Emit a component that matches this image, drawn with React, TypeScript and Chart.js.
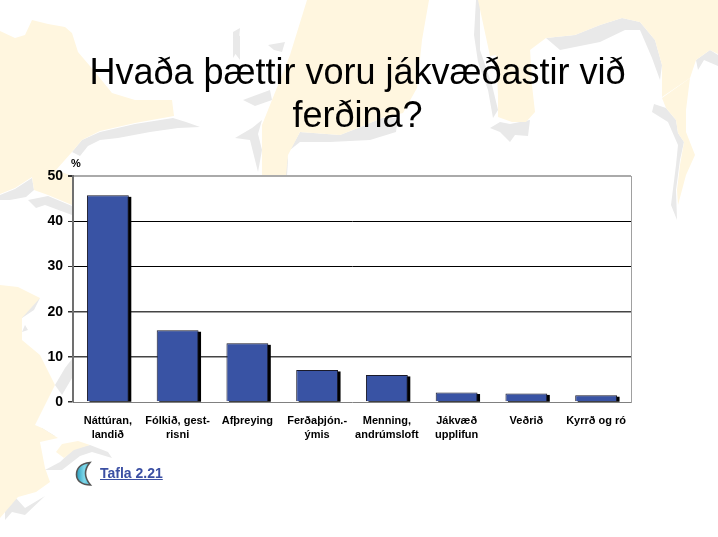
import React, { useEffect, useRef } from "react";
import { Chart, registerables } from "chart.js";

Chart.register(...registerables);

const titleLines = ["Hvaða þættir voru jákvæðastir við", "ferðina?"];
const categories = [
  ["Náttúran,", "landið"],
  ["Fólkið, gest-", "risni"],
  ["Afþreying"],
  ["Ferðaþjón.-", "ýmis"],
  ["Menning,", "andrúmsloft"],
  ["Jákvæð", "upplifun"],
  ["Veðrið"],
  ["Kyrrð og ró"],
];
const values = [45.8, 15.9, 13, 7.1, 6, 2.1, 1.9, 1.5];
const unitLabel = "%";
const linkLabel = "Tafla 2.21";

const FONT = "'Liberation Sans', Arial, sans-serif";

const chartDecor = {
  id: "chartDecor",
  beforeDraw(chart: any) {
    const { ctx, chartArea: a } = chart;
    ctx.save();
    ctx.fillStyle = "#ffffff";
    ctx.fillRect(a.left, a.top, a.right - a.left, a.bottom - a.top);
    ctx.restore();
  },
  beforeDatasetsDraw(chart: any) {
    const { ctx } = chart;
    ctx.save();
    ctx.fillStyle = "#000000";
    chart.getDatasetMeta(0).data.forEach((bar: any) => {
      const { x, y, width, base } = bar.getProps(["x", "y", "width", "base"], true);
      ctx.fillRect(x - width / 2 + 2.5, y + 1.5, width, base - y - 1);
    });
    ctx.restore();
  },
  afterDraw(chart: any) {
    const { ctx, chartArea: a } = chart;
    ctx.save();
    ctx.fillStyle = "#000000";
    ctx.font = `bold 11px ${FONT}`;
    ctx.textAlign = "left";
    ctx.textBaseline = "middle";
    ctx.fillText(unitLabel, a.left - 2, a.top - 12);
    ctx.restore();
  },
};

const yellow = "#fff6df";
const grey = "#e9e9e9";

function Background() {
  return (
    <svg width={718} height={537} style={{ position: "absolute", left: 0, top: 0 }}>
      <defs>
        <filter id="soft" x="-5%" y="-5%" width="110%" height="110%">
          <feGaussianBlur stdDeviation="0.7" />
        </filter>
      </defs>
      <g filter="url(#soft)">
        {/* grey coastline shadows */}
        <g fill={grey}>
          <path d="M173,118 L186,122 L200,127 L178,128 L150,132 L118,138 L100,140 L88,146 L80,156 L72,152 L82,140 L100,132 L135,124Z" />
          <path d="M0,195 L15,189 L32,178 L34,190 L26,197 L10,200 L0,200Z" />
          <path d="M28,200 L48,196 L72,206 L72,215 L45,205 L36,208Z" />
          <path d="M233,32 L240,28 L238,50 L233,58Z" />
          <path d="M268,45 L285,42 L282,52 L274,50Z" />
          <path d="M233,33 L240,36 L240,60 L234,52Z" />
          <path d="M243,100 L270,90 L272,100 L255,106Z" />
          <path d="M235,138 L252,128 L262,120 L258,134 L262,150 L258,172 L250,140Z" />
          <path d="M282,176 L276,160 L284,146 L288,160 L287,176Z" />
          <path d="M290,150 L300,132 L340,135 L358,128 L382,118 L398,118 L396,132 L370,140 L330,142 L300,142Z" />
          <path d="M490,128 L500,122 L510,124 L530,120 L528,136 L515,135 L510,142 L500,132Z" />
          <path d="M476,0 L480,0 L480,50 L492,85 L498,110 L493,118 L488,90 L478,62 L474,35Z" />
          <path d="M546,38 L575,35 L600,25 L622,18 L640,22 L655,40 L662,65 L660,80 L652,58 L640,30 L625,30 L600,42 L560,50Z" />
          <path d="M654,104 L666,108 L676,120 L678,133 L684,142 L680,160 L676,190 L677,220 L671,205 L676,165 L678,145 L668,122 L652,112Z" />
          <path d="M696,60 L710,50 L718,55 L718,66 L704,60 L698,70Z" />
          <path d="M20,306 L40,298 L34,310 L22,318Z" />
          <path d="M25,325 L28,330 L22,332Z" />
          <path d="M20,430 L42,428 L55,436 L40,440Z" />
          <path d="M45,470 L60,462 L75,448 L90,445 L108,452 L112,458 L92,452 L80,456 L62,470Z" />
          <path d="M5,500 L15,497 L25,508 L45,496 L25,515 L12,512 L5,520Z" />
          <path d="M65,368 L75,355 L72,378 L62,395 L55,385Z" />
        </g>
        {/* yellow land masses */}
        <g fill={yellow}>
          <path d="M0,31 L15,38 L25,35 L32,20 L48,24 L65,27 L72,33 L78,52 L95,72 L112,93 L135,100 L172,100 L174,116 L135,123 L100,131 L82,140 L72,152 L56,170 L72,176 L72,205 L48,195 L34,190 L32,177 L15,188 L0,194Z" />
          <path d="M0,285 L18,287 L40,298 L22,318 L22,340 L40,355 L55,385 L45,405 L35,425 L42,428 L58,438 L40,442 L45,468 L50,482 L36,492 L18,497 L0,518Z" />
          <path d="M307,0 L429,0 L422,40 L417,88 L403,113 L382,118 L358,128 L340,135 L300,132 L288,155 L286,176 L262,176 L262,150 L262,125 L272,100 L290,55Z" />
          <path d="M478,0 L718,0 L718,54 L710,50 L696,60 L690,78 L662,97 L662,65 L655,40 L640,22 L622,18 L600,25 L575,35 L546,38 L530,50 L490,56Z" />
          <path d="M496,55 L530,48 L532,85 L535,112 L526,122 L512,122 L498,117 L498,95Z" />
          <path d="M662,98 L690,78 L686,110 L686,132 L695,155 L686,175 L678,205 L677,190 L680,165 L684,142 L678,133 L676,120 L666,108Z" />
          <path d="M74,450 L90,445 L78,441 L62,444 L56,452 L64,458Z" />
        </g>
      </g>
    </svg>
  );
}

export default function App() {
  const ref = useRef<HTMLCanvasElement | null>(null);

  useEffect(() => {
    if (!ref.current) return;
    const chart = new Chart(ref.current, {
      type: "bar",
      data: {
        labels: categories,
        datasets: [
          {
            data: values,
            backgroundColor: "#3953a4",
            borderColor: "#1a1a2a",
            borderWidth: 1,
            barPercentage: 1,
            categoryPercentage: 0.6,
          },
        ],
      },
      plugins: [chartDecor],
      options: {
        responsive: false,
        animation: false,
        layout: { padding: { right: 3 } },
        plugins: {
          legend: { display: false },
          tooltip: { enabled: false },
          title: {
            display: true,
            text: titleLines,
            color: "#000000",
            font: { family: FONT, size: 36, weight: "normal", lineHeight: 1.2 },
            padding: { top: 52, bottom: 38 },
          },
        },
        scales: {
          x: {
            grid: { display: false },
            border: { display: true, color: "#808080", width: 1 },
            ticks: {
              color: "#000000",
              font: { family: FONT, size: 11, weight: "bold", lineHeight: 1.3 },
              padding: 4,
              maxRotation: 0,
              minRotation: 0,
              autoSkip: false,
            },
            afterFit(scale: any) {
              scale.height = 135;
            },
          },
          y: {
            min: 0,
            max: 50,
            ticks: {
              stepSize: 10,
              color: "#000000",
              font: { family: FONT, size: 14, weight: "bold" },
              padding: 5,
            },
            grid: {
              color: (c: any) =>
                c.tick.value === 50 ? "#aaaaaa" : c.tick.value === 0 ? "rgba(0,0,0,0)" : c.tick.value <= 20 ? "#444444" : "#000000",
              lineWidth: (c: any) => (c.tick.value === 50 ? 2 : c.tick.value <= 20 ? 1.5 : 1),
              tickColor: "#333333",
              tickLength: 5,
              drawTicks: true,
            },
            border: { display: true, color: "#707070", width: 2 },
            afterFit(scale: any) {
              scale.width = 73;
            },
          },
          yRight: {
            position: "right",
            min: 0,
            max: 50,
            ticks: { display: false },
            grid: { display: false, drawTicks: false },
            border: { display: true, color: "#a0a0a0", width: 1 },
            afterFit(scale: any) {
              scale.width = 84;
            },
          },
        },
      } as any,
    });
    return () => chart.destroy();
  }, []);

  return (
    <div style={{ position: "fixed", left: 0, top: 0, width: 718, height: 537, background: "#ffffff", overflow: "hidden" }}>
      <Background />
      <canvas ref={ref} width={718} height={537} style={{ position: "absolute", left: 0, top: 0, display: "block" }} />
      <svg width={30} height={36} viewBox="70 456 30 36" style={{ position: "absolute", left: 70, top: 456 }}>
        <defs>
          <linearGradient id="moon" x1="0" y1="0" x2="1" y2="0">
            <stop offset="0" stopColor="#2a9dbd" />
            <stop offset="0.55" stopColor="#7fd8ea" />
            <stop offset="1" stopColor="#4fbcd6" />
          </linearGradient>
        </defs>
        <path
          d="M90,462.5 C80,463.5 76.5,469 76.5,474.5 C76.5,481 82,485 90.5,485 C87.5,481.5 85.5,477.5 85.5,473.5 C85.5,469 87.5,465.5 90,462.5Z"
          fill="url(#moon)"
          stroke="#555555"
          strokeWidth={1.6}
        />
      </svg>
      <span
        style={{
          position: "absolute",
          left: 100,
          top: 466,
          fontFamily: FONT,
          fontSize: 14,
          lineHeight: "15px",
          fontWeight: "bold",
          color: "#3b4fa3",
          textDecoration: "underline",
        }}
      >
        {linkLabel}
      </span>
    </div>
  );
}
